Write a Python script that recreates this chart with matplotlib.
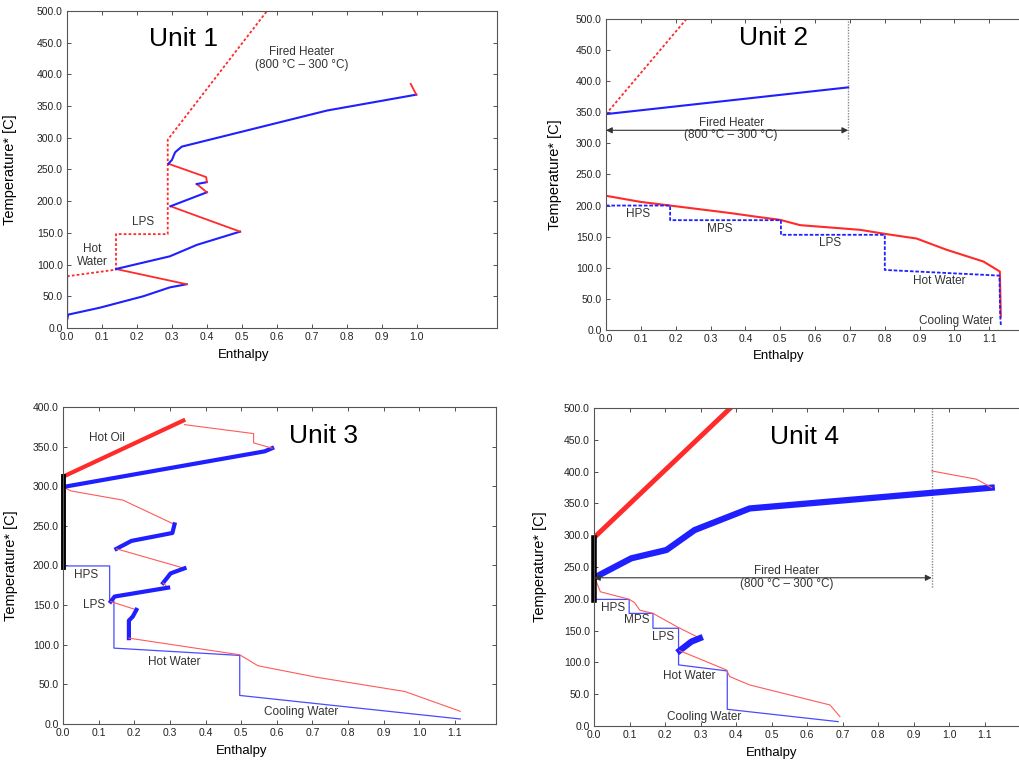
import numpy as np
import matplotlib
matplotlib.use('Agg')
import matplotlib.pyplot as plt

plt.rcParams['font.family'] = ['Liberation Sans', 'DejaVu Sans']

RED = '#ff2a2a'
BLUE = '#1f1fff'
THIN_RED = '#ff5a5a'
THIN_BLUE = '#4a4aff'

# ---- Unit 1 ----
u1_gcc_h = [0.0, 0.0, 0.003, 0.094, 0.218, 0.294, 0.342, 0.14, 0.294, 0.371, 0.495,
            0.38, 0.296, 0.40, 0.371, 0.40, 0.398, 0.29, 0.30, 0.309, 0.328, 0.744,
            0.999, 0.983]
u1_gcc_t = [81, 13, 21, 32, 50, 64, 69, 93, 113, 131, 152,
            175, 192, 214, 227, 230, 238, 259, 265, 277, 286, 343,
            368, 385]
u1_gcc_side = "bbbbbbrbbbrrbrbrrbbbbbr"
u1_util_h = [0.0, 0.14, 0.14, 0.288, 0.288, 0.572]
u1_util_t = [81.5, 92, 148, 148, 297, 500]

# ---- Unit 2 ----
u2_heater_h = [0.0, 0.231]
u2_heater_t = [347, 500]
u2_top_h = [0.0, 0.695]
u2_top_t = [347, 390]
u2_proc_h = [0.0, 0.098, 0.184, 0.356, 0.432, 0.5, 0.557, 0.729, 0.80, 0.891,
             0.977, 1.083, 1.13, 1.133]
u2_proc_t = [215.7, 206, 200, 188, 182, 177, 168.5, 161, 154.5, 147,
             129, 110, 94, 21.5]
u2_util_h = [0.0, 0.184, 0.184, 0.502, 0.502, 0.80, 0.80, 1.129, 1.131, 1.133]
u2_util_t = [200, 200, 176.5, 176.5, 153, 153, 96.5, 87.4, 25, 8]
u2_heater_duty = 0.695

# ---- Unit 3 ----
u3_oil_h = [0.0, 0.343]
u3_oil_t = [312, 384]
u3_pinch_t = [198.5, 313]
u3_top_h = [0.0, 0.566, 0.587, 0.535, 0.535, 0.341]
u3_top_t = [299, 344, 348, 354.7, 366.4, 377.7]
u3_top_side = "bbrrr"
u3_bot_h = [0.0, 0.023, 0.168, 0.313, 0.307, 0.192, 0.15, 0.341, 0.302, 0.281,
            0.295, 0.145, 0.134, 0.206, 0.196, 0.185, 0.185, 0.496, 0.547, 0.711,
            0.959, 1.115]
u3_bot_t = [299, 294, 282.5, 251.8, 241, 231, 221, 196.4, 190, 178,
            172, 160.8, 154.5, 144, 135.6, 130.5, 108.3, 87.3, 73.5, 59,
            41, 16]
u3_bot_side = "rrrbbbrbbrbbrbbbrrrrr"
u3_util_h = [0.0, 0.131, 0.131, 0.143, 0.143, 0.496, 0.496, 1.115]
u3_util_t = [199.4, 199.4, 155, 155, 95.7, 86.5, 36, 6.3]

# ---- Unit 4 ----
u4_heater_h = [0.0, 0.384]
u4_heater_t = [296, 500]
u4_pinch_t = [198, 295]
u4_top_h = [0.007, 0.105, 0.204, 0.283, 0.438, 1.119, 1.076, 0.95]
u4_top_t = [235, 263.6, 276.7, 308, 342, 374.7, 388, 401]
u4_top_side = "bbbbbrr"
u4_bot_h = [0.0, 0.018, 0.1, 0.114, 0.129, 0.166, 0.237, 0.298, 0.274, 0.241,
            0.373, 0.382, 0.438, 0.664, 0.692]
u4_bot_t = [236, 211, 199, 194, 182, 177, 155, 138, 132.6, 118.4,
            88, 77.6, 64.5, 33, 14.7]
u4_bot_side = "rrrrrrrbbrrrrr"
u4_util_h = [0.0, 0.099, 0.099, 0.166, 0.166, 0.238, 0.238, 0.375, 0.375, 0.687]
u4_util_t = [199, 199, 177, 177, 153.6, 153.6, 96, 86.5, 26.2, 6.8]
u4_heater_duty = 0.95


def plot_sided(ax, h, t, side, lw_b, lw_r, col_b=BLUE, col_r=RED):
    # draw consecutive runs of same-coloured segments as one polyline
    i = 0
    while i < len(side):
        j = i
        while j < len(side) and side[j] == side[i]:
            j += 1
        if side[i] == 'b':
            ax.plot(h[i:j + 1], t[i:j + 1], color=col_b, lw=lw_b, solid_joinstyle='round')
        else:
            ax.plot(h[i:j + 1], t[i:j + 1], color=col_r, lw=lw_r, solid_joinstyle='round')
        i = j


def setup_axes(rect, xmax, ymax, xtick_max, ylab_x, xlab_x):
    ax = fig.add_axes(rect)
    ax.set_xlim(0, xmax)
    ax.set_ylim(0, ymax)
    ax.set_xticks(np.round(np.arange(0, xtick_max + 0.01, 0.1), 1))
    ax.set_xticklabels([f'{v:.1f}' for v in np.arange(0, xtick_max + 0.01, 0.1)])
    ax.set_yticks(np.arange(0, ymax + 1, 50))
    ax.set_yticklabels([f'{v:.1f}' for v in np.arange(0, ymax + 1, 50)])
    ax.tick_params(direction='in', length=3, width=0.6, labelsize=7.5, pad=3,
                   top=True, right=True, colors='#333333', labelcolor='#222222')
    for s in ax.spines.values():
        s.set_color('#555555')
        s.set_linewidth(0.8)
    ax.set_ylabel('Temperature* [C]', fontsize=10.5)
    ax.set_xlabel('Enthalpy', fontsize=9.5)
    ax.yaxis.set_label_coords(ylab_x, 0.5)
    ax.xaxis.set_label_coords(xlab_x, -0.065)
    return ax


def heater_arrow(ax, duty, y_arrow):
    ax.plot([duty, duty], [y_arrow - 14, ax.get_ylim()[1]], color='#888888', lw=1.0,
            linestyle=(0, (1, 1)))
    ax.annotate('', xy=(duty, y_arrow), xytext=(0.0, y_arrow),
                arrowprops=dict(arrowstyle='<|-|>', color='#333333', lw=0.8,
                                mutation_scale=9, shrinkA=0, shrinkB=0))


fig = plt.figure(figsize=(10.19, 7.67), dpi=100)

# Unit 1
ax1 = setup_axes([0.0658, 0.5724, 0.422, 0.4133], 1.23, 500, 1.0, -0.116, 0.41)
ax1.plot(u1_util_h, u1_util_t, color=RED, lw=1.3, linestyle=(0, (1.5, 1.2)))
plot_sided(ax1, u1_gcc_h, u1_gcc_t, u1_gcc_side, 1.5, 1.3)
ax1.text(0.333, 456, 'Unit 1', fontsize=19, ha='center', va='center')
ax1.text(0.672, 425, 'Fired Heater\n(800 °C \u2013 300 °C)', fontsize=8.5, ha='center',
         va='center', color='#333333', linespacing=1.1)
ax1.text(0.218, 167, 'LPS', fontsize=8.5, ha='center', va='center', color='#333333')
ax1.text(0.073, 114, 'Hot\nWater', fontsize=8.5, ha='center', va='center', color='#333333',
         linespacing=1.1)

# Unit 2 (right edge runs off the page)
ax2 = setup_axes([0.5947, 0.5698, 0.4275, 0.4055], 1.25, 500, 1.1, -0.101, 0.397)
ax2.plot(u2_heater_h, u2_heater_t, color=RED, lw=1.3, linestyle=(0, (1.5, 1.2)))
ax2.plot(u2_top_h, u2_top_t, color=BLUE, lw=1.5)
ax2.plot(u2_proc_h, u2_proc_t, color=RED, lw=1.5)
ax2.plot(u2_util_h, u2_util_t, color=BLUE, lw=1.3, linestyle=(0, (2, 1)))
heater_arrow(ax2, u2_heater_duty, 321)
ax2.text(0.48, 469, 'Unit 2', fontsize=19, ha='center', va='center')
ax2.text(0.359, 323, 'Fired Heater\n(800 °C \u2013 300 °C)', fontsize=8.5, ha='center',
         va='center', color='#333333', linespacing=1.1)
ax2.text(0.093, 186, 'HPS', fontsize=8.5, ha='center', va='center', color='#333333')
ax2.text(0.325, 162.5, 'MPS', fontsize=8.5, ha='center', va='center', color='#333333')
ax2.text(0.643, 139.5, 'LPS', fontsize=8.5, ha='center', va='center', color='#333333')
ax2.text(0.956, 79.4, 'Hot Water', fontsize=8.5, ha='center', va='center', color='#333333')
ax2.text(1.006, 15, 'Cooling Water', fontsize=8.5, ha='center', va='center', color='#333333')

# Unit 3
ax3 = setup_axes([0.0618, 0.0561, 0.4249, 0.4133], 1.215, 400, 1.1, -0.104, 0.413)
ax3.plot(u3_util_h, u3_util_t, color=THIN_BLUE, lw=0.9)
plot_sided(ax3, u3_bot_h, u3_bot_t, u3_bot_side, 3.0, 0.8, col_r=THIN_RED)
plot_sided(ax3, u3_top_h, u3_top_t, u3_top_side, 3.0, 0.8, col_r=THIN_RED)
ax3.plot(u3_oil_h, u3_oil_t, color=RED, lw=3.0, solid_capstyle='butt')
ax3.plot([0, 0], u3_pinch_t, color='black', lw=3.5, clip_on=False)
ax3.text(0.73, 364, 'Unit 3', fontsize=19, ha='center', va='center')
ax3.text(0.123, 361, 'Hot Oil', fontsize=8.5, ha='center', va='center', color='#333333')
ax3.text(0.065, 188, 'HPS', fontsize=8.5, ha='center', va='center', color='#333333')
ax3.text(0.087, 150, 'LPS', fontsize=8.5, ha='center', va='center', color='#333333')
ax3.text(0.313, 77.6, 'Hot Water', fontsize=8.5, ha='center', va='center', color='#333333')
ax3.text(0.669, 14.7, 'Cooling Water', fontsize=8.5, ha='center', va='center', color='#333333')

# Unit 4 (right edge runs off the page)
ax4 = setup_axes([0.5829, 0.0535, 0.436, 0.4146], 1.25, 500, 1.1, -0.106, 0.4)
heater_arrow(ax4, u4_heater_duty, 233)
ax4.plot(u4_util_h, u4_util_t, color=THIN_BLUE, lw=0.9)
plot_sided(ax4, u4_bot_h, u4_bot_t, u4_bot_side, 4.5, 0.8, col_r=THIN_RED)
plot_sided(ax4, u4_top_h, u4_top_t, u4_top_side, 4.5, 0.8, col_r=THIN_RED)
ax4.plot(u4_heater_h, u4_heater_t, color=RED, lw=3.5)
ax4.plot([0, 0], u4_pinch_t, color='black', lw=4.0, clip_on=False)
ax4.text(0.593, 455, 'Unit 4', fontsize=19, ha='center', va='center')
ax4.text(0.541, 234, 'Fired Heater\n(800 °C \u2013 300 °C)', fontsize=8.5, ha='center',
         va='center', color='#333333', linespacing=1.1)
ax4.text(0.053, 185, 'HPS', fontsize=8.5, ha='center', va='center', color='#333333')
ax4.text(0.119, 166.7, 'MPS', fontsize=8.5, ha='center', va='center', color='#333333')
ax4.text(0.194, 139.4, 'LPS', fontsize=8.5, ha='center', va='center', color='#333333')
ax4.text(0.267, 78.6, 'Hot Water', fontsize=8.5, ha='center', va='center', color='#333333')
ax4.text(0.309, 14.7, 'Cooling Water', fontsize=8.5, ha='center', va='center', color='#333333')

fig.savefig('out.png', dpi=100)
